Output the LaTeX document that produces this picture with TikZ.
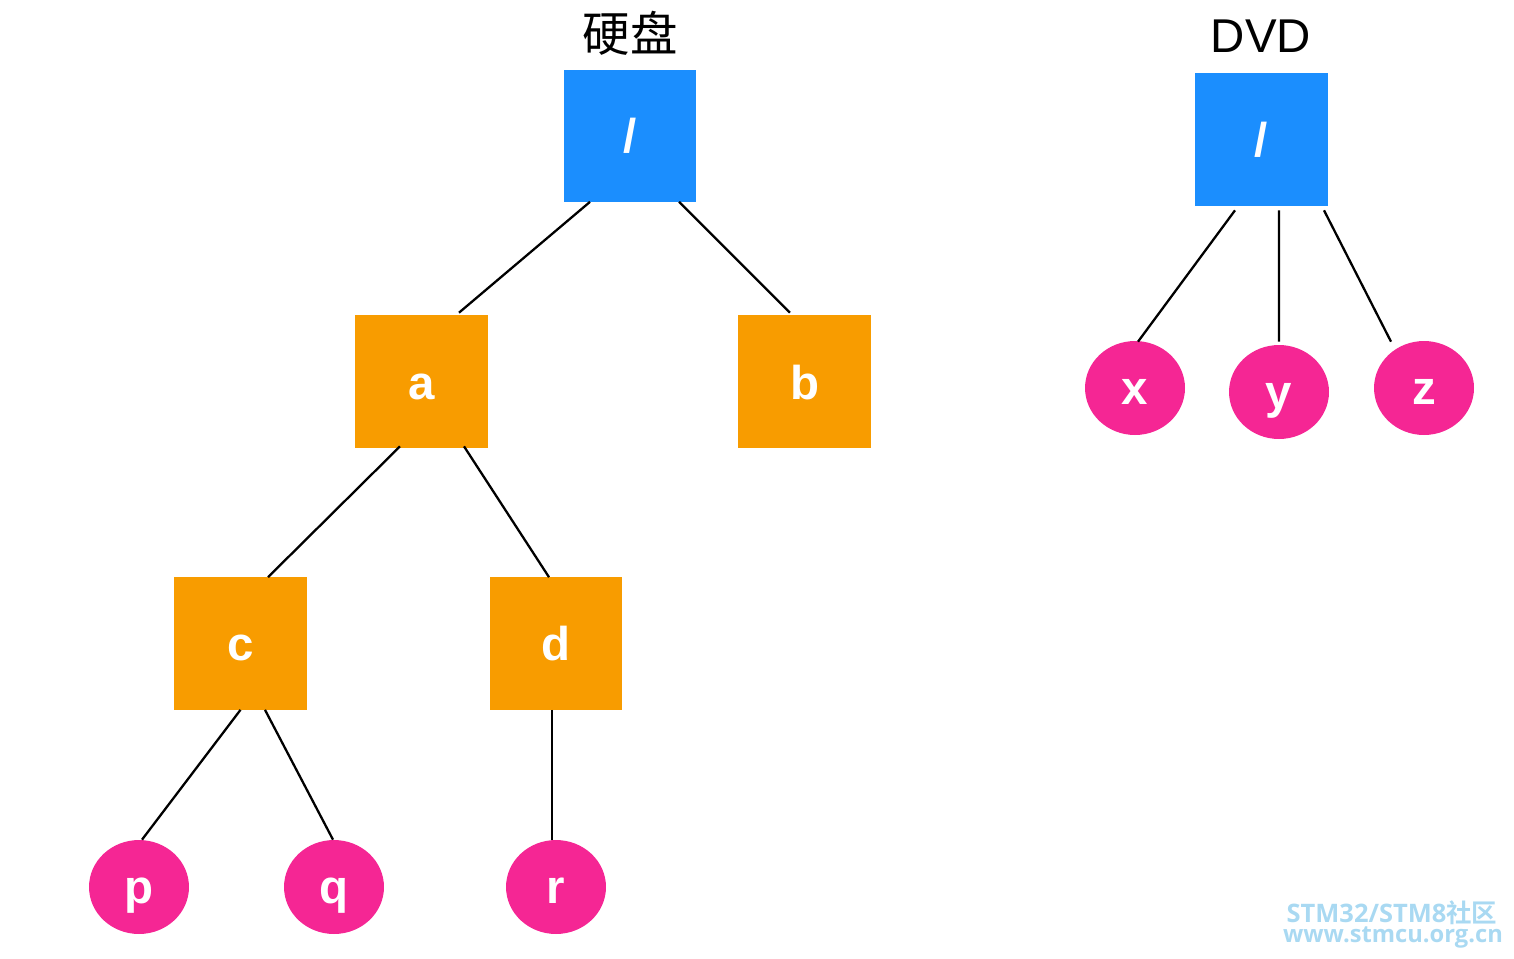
\documentclass[tikz,border=0pt]{standalone}
\usepackage{fontspec}
\setmainfont{Liberation Sans}
\newfontfamily\cjkfont{Noto Sans CJK SC}
\newfontfamily\cjkboldfont{Noto Sans CJK SC Bold}
\newfontfamily\wmfont{Open Sans Bold}
\usetikzlibrary{shapes.geometric,calc}
\definecolor{rootblue}{HTML}{1B8EFE}
\definecolor{dirorange}{HTML}{F89C00}
\definecolor{filepink}{HTML}{F52694}
\definecolor{wmblue}{HTML}{A9D9F2}
\begin{document}
\begin{tikzpicture}[x=0.02cm,y=-0.02cm,
  rootbox/.style={fill=rootblue,draw=none,minimum size=2.66cm,inner sep=0pt,text=white,font=\fontsize{27}{27}\selectfont\bfseries},
  dirbox/.style={fill=dirorange,draw=none,minimum size=2.66cm,inner sep=0pt,text=white,text height=20pt,text depth=0pt,font=\fontsize{27}{27}\selectfont\bfseries},
  filenode/.style={ellipse,fill=filepink,draw=none,minimum width=2cm,minimum height=1.88cm,inner sep=0pt,text=white,text height=19pt,text depth=0pt,font=\fontsize{27}{27}\selectfont\bfseries},
  edge/.style={draw=black,line width=1.3pt},
  title/.style={font=\fontsize{27}{27}\selectfont},
  wmark/.style={text=wmblue,inner sep=0pt,anchor=base}
]
\useasboundingbox (0,0) rectangle (1514,958);
% titles
\node[title] (t1) at (630,33) {\cjkfont 硬盘};
\node[title] (t2) at (1261,36) {DVD};
% tree 1
\node[rootbox] (root1) at (630,136) {/};
\node[dirbox] (a) at (421.5,381.5) {a};
\node[dirbox] (b) at (804.5,381.5) {b};
\node[dirbox] (c) at (240.5,643) {c};
\node[dirbox] (d) at (556,643) {d};
\node[filenode] (p) at (139,887) {p};
\node[filenode] (q) at (334,887) {q};
\node[filenode] (r) at (556,887) {r};
% tree 2
\node[rootbox] (root2) at (1261.5,139.5) {/};
\node[filenode] (x) at (1135,388) {x};
\node[filenode] (y) at (1279,392) {y};
\node[filenode] (z) at (1424,388) {z};
% edges
\draw[edge] ($(root1.south)+(-40,-1)$) -- ($(a.north)+(37.5,-2)$);
\draw[edge] ($(root1.south)+(49,-1)$) -- ($(b.north)+(-14.5,-2)$);
\draw[edge] ($(a.south)+(-21.5,-2)$) -- ($(c.north)+(27.5,1)$);
\draw[edge] ($(a.south)+(42.5,-2)$) -- ($(d.north)+(-7,1)$);
\draw[edge] ($(c.south)+(0,0)$) -- ($(p.north)+(3,0)$);
\draw[edge] ($(c.south)+(24.5,0)$) -- ($(q.north)+(-1,0)$);
\draw[edge] ($(d.south)+(-4,0)$) -- ($(r.north)+(-4,0)$);
\draw[edge] ($(root2.south)+(-26.5,4)$) -- ($(x.north)+(3,1)$);
\draw[edge] ($(root2.south)+(17.5,4)$) -- ($(y.north)+(0,-3)$);
\draw[edge] ($(root2.south)+(62.5,4)$) -- ($(z.north)+(-33,1)$);
% watermark
\node[wmark,font=\fontsize{14.5}{14.5}\wmfont] (wm1) at (1392,922) {STM32/STM8{\cjkboldfont 社区}};
\node[wmark,font=\fontsize{13.5}{13.5}\wmfont] (wm2) at (1393,942) {www.stmcu.org.cn};
\end{tikzpicture}
\end{document}
